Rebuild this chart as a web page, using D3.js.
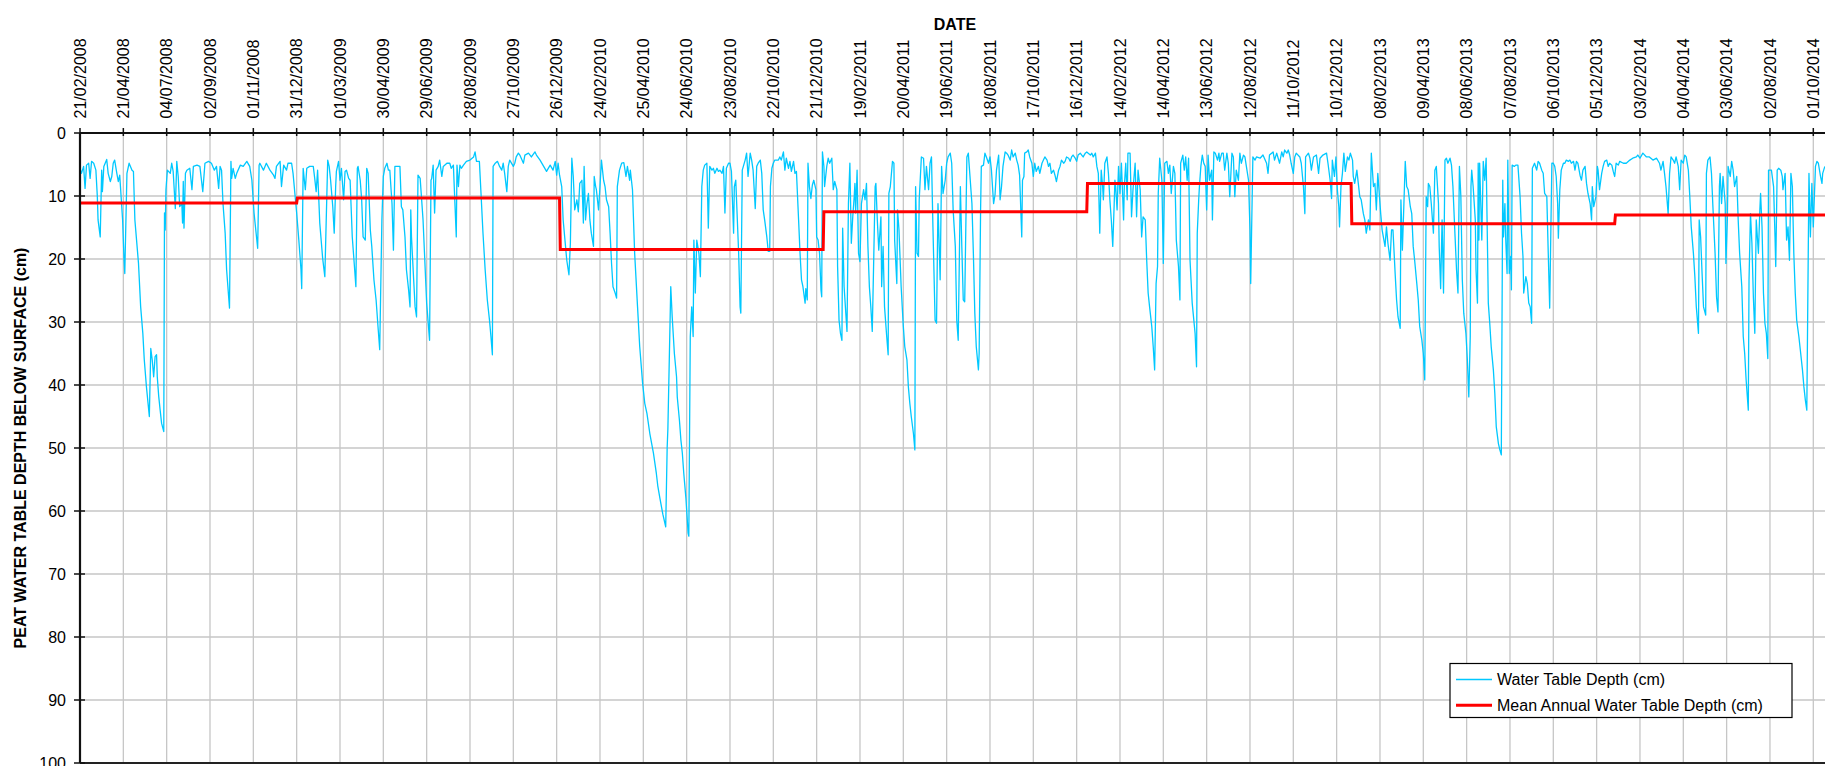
<!DOCTYPE html>
<html>
<head>
<meta charset="utf-8">
<script src="https://cdn.jsdelivr.net/npm/d3@7"></script>
<style>
  html, body { margin: 0; padding: 0; background: #fff; }
  svg { display: block; font-family: "Liberation Sans", Arial, sans-serif; }
</style>
</head>
<body>
<svg id="chart" width="1825" height="766"></svg>
<script>
// ---------------- DATA ----------------
// Category axis (one category per recorded day); a label every 60 categories
const tickLabels = [
  "21/02/2008","21/04/2008","04/07/2008","02/09/2008","01/11/2008","31/12/2008",
  "01/03/2009","30/04/2009","29/06/2009","28/08/2009","27/10/2009","26/12/2009",
  "24/02/2010","25/04/2010","24/06/2010","23/08/2010","22/10/2010","21/12/2010",
  "19/02/2011","20/04/2011","19/06/2011","18/08/2011","17/10/2011","16/12/2011",
  "14/02/2012","14/04/2012","13/06/2012","12/08/2012","11/10/2012","10/12/2012",
  "08/02/2013","09/04/2013","08/06/2013","07/08/2013","06/10/2013","05/12/2013",
  "03/02/2014","04/04/2014","03/06/2014","02/08/2014","01/10/2014"
];
const tickEvery = 60;
const yTicks = [0,10,20,30,40,50,60,70,80,90,100];

const dayIndex = [
0,2,5,7,9,12,14,16,19,22,24,25,28,30,31,33,37,39,42,44,46,48,51,53,55,59,61,62,65,68,72,74,76,81,84,87,89,92,96,98,100,102,104,106,107,109,111,113,116,117,118,119,121,125,127,129,132,134,136,138,141,142,143,144,146,148,152,155,157,162,166,170,173,178,182,186,189,192,194,196,198,201,203,207,209,210,212,215,217,222,226,231,235,238,241,246,248,249,254,258,263,268,270,272,277,279,282,286,288,293,295,300,303,306,307,309,312,314,318,323,325,327,329,332,336,339,343,345,347,350,352,354,355,358,360,362,365,367,369,372,374,377,380,382,384,385,388,390,392,395,396,397,399,402,404,407,410,413,415,418,420,422,425,427,429,432,434,436,438,443,445,447,450,452,455,457,458,459,462,464,466,468,471,475,480,484,
486,487,489,491,493,496,498,501,503,508,512,514,517,521,522,524,526,528,531,535,540,545,547,549,553,555,558,561,564,567,569,571,572,575,578,581,584,586,588,591,593,595,600,602,604,607,609,614,616,621,625,630,632,637,641,646,651,655,658,660,662,664,667,669,674,677,679,681,683,685,688,690,692,695,697,698,700,702,704,706,708,711,712,714,715,718,720,722,725,727,729,732,734,736,738,741,743,744,747,750,753,756,758,761,762,765,768,772,775,779,782,785,789,794,798,800,803,807,811,813,814,818,820,823,826,827,830,832,834,836,839,842,843,845,847,849,850,852,854,857,859,861,863,865,868,870,872,875,877,879,882,884,886,889,891,893,895,898,900,902,905,906,908,912,914,915,917,919,921,923,925,928,930,932,935,937,939,942,944,946,948,951,953,955,956,958,960,962,967,
969,971,974,976,978,981,983,985,988,990,992,995,997,999,1001,1004,1005,1007,1008,1010,1012,1014,1016,1019,1020,1022,1024,1026,1027,1028,1030,1031,1034,1036,1038,1041,1043,1045,1048,1049,1051,1053,1055,1056,1058,1061,1062,1064,1066,1068,1070,1072,1073,1074,1076,1078,1080,1082,1085,1087,1089,1091,1093,1095,1097,1099,1101,1102,1104,1106,1109,1110,1112,1114,1117,1119,1120,1122,1125,1127,1128,1131,1132,1134,1137,1140,1142,1145,1147,1149,1151,1154,1156,1157,1159,1161,1162,1165,1168,1170,1172,1175,1177,1179,1181,1184,1186,1188,1191,1193,1195,1198,1200,1202,1205,1207,1209,1212,1214,1216,1218,1219,1221,1223,1225,1228,1230,1232,1235,1237,1239,1241,1244,1245,1247,1248,1251,1253,1255,1258,1260,1262,1265,1267,1269,1272,1274,1276,1278,1281,1283,1285,1288,1290,1292,1295,1297,1299,1301,1304,1305,1307,1308,1311,1313,1315,1318,1320,1322,1324,1327,1329,1332,1334,1336,1339,1341,1343,1345,1348,1350,1352,1355,1357,1359,1362,1364,1366,1369,1371,1373,1375,1378,1380,1382,1385,1387,1389,1392,1394,1396,1399,1401,1403,1406,1408,1410,1412,1414,1416,1417,1419,1422,1424,1426,1428,1430,1432,1433,1434,1436,1438,1440,1442,1445,1446,1448,1450,1451,
1454,1456,1458,1461,1463,1465,1468,1470,1472,1475,1477,1479,1481,1484,1486,1488,1490,1492,1493,1495,1498,1500,1502,1505,1507,1509,1511,1514,1516,1518,1521,1523,1524,1527,1529,1531,1533,1535,1537,1540,1544,1546,1547,1549,1550,1552,1554,1556,1558,1560,1562,1564,1567,1568,1570,1572,1575,1577,1578,1581,1583,1585,1588,1590,1592,1595,1597,1599,1601,1604,1606,1608,1611,1613,1615,1618,1620,1621,1624,1627,1629,1634,1638,1643,1645,1647,1652,1654,1657,1661,1664,1666,1668,1671,1673,1675,1677,1680,1682,1684,1689,1691,1694,1696,1697,1701,1703,1705,1708,1712,1715,1717,1721,1726,1728,1731,1733,1734,1737,1739,1741,1743,1744,1746,1748,1750,1752,1755,1757,1759,1762,1763,1765,1768,1770,1772,1774,1777,1779,1781,1784,1786,1788,1791,1793,1795,1797,1801,1803,1807,1809,1811,1814,1816,1818,1821,1823,1825,1828,1829,1831,1833,1835,1837,1839,1842,1844,1846,1848,1851,1853,1855,1858,1860,1862,1864,1866,1867,1869,1871,1874,1876,1878,1881,1882,1884,1886,1888,1890,1892,1894,1897,1899,1901,1904,1906,1908,1910,1912,1914,1916,1919,1921,1923,1925,1926,1927,1929,1932,1933,1935,
1936,1937,1938,1941,1943,1945,1947,1949,1950,1952,1954,1957,1959,1961,1964,1966,1968,1970,1971,1973,1974,1976,1977,1979,1981,1982,1983,1986,1988,1991,1994,1996,1998,1999,2002,2004,2006,2008,2010,2011,2014,2017,2019,2021,2024,2026,2028,2031,2033,2035,2038,2040,2042,2044,2046,2047,2049,2051,2054,2056,2058,2061,2063,2065,2068,2070,2072,2074,2077,2079,2081,2084,2086,2088,2091,2093,2094,2096,2099,2101,2102,2104,2107,2109,2111,2114,2116,2118,2121,2123,2125,2127,2130,2132,2137,2141,2146,2150,2155,2157,2160,2164,2169,2173,2178,2183,2187,2189,2192,2194,2196,2199,2201,2203,2206,2208,2210,2213,2215,2217,2220,2222,2224,2227,2229,2231,2234,2236,2238,2241,2242,2244,2246,2248,2251,2252,2254,2257,2259,2261,2264,2266,2268,2270,2271,2273,2275,2278,2279,2281,2282,2285,2287,2289,2291,2294,2296,2298,2301,2303,2305,2307,2310,2311,2313,2315,2317,2319,2321,2324,2326,2327,2329,2331,2333,2335,2337,2338,2342,2345,2347,2348,2350,2352,2355,2357,2358,2361,2363,2365,2367,2368,2369,2371,2373,2375,2377,2380,2382,2385,2387,2389,2391,2393,2394,2396,2398,2400,2401,2403,2405,2407,2410,2412,2413,2416
];
const depth = [
5.6,6.4,5.3,8.8,5.1,4.8,7.2,4.5,4.8,5.9,10.1,13.8,16.5,5.9,9.3,5.3,4.2,6.4,7.7,6.9,4.8,4.3,6.4,7.7,6.7,13.8,20.2,22.3,6.4,4.8,5.9,6.1,13.8,20.7,27.6,31.8,36.0,40.3,45.0,34.2,36.0,38.7,35.5,35.2,38.7,41.8,44.0,46.1,47.4,12.7,15.4,9.0,5.9,6.4,4.8,6.1,12.0,4.5,6.9,11.7,11.2,14.3,7.7,15.1,6.4,5.9,5.6,9.0,5.3,5.1,5.3,9.3,4.8,4.5,4.8,5.9,5.3,8.8,5.3,5.9,11.2,15.9,21.7,27.8,4.5,7.2,5.6,7.2,6.4,5.1,5.3,4.5,5.3,7.5,12.7,18.3,5.1,4.8,5.9,4.8,5.9,6.7,7.2,5.3,4.5,8.5,5.1,5.9,4.8,4.8,6.4,12.7,17.0,21.7,24.7,5.6,9.0,5.6,5.3,5.3,7.2,9.3,5.9,14.3,19.9,22.8,4.3,5.3,7.5,11.7,15.9,8.5,6.1,4.5,7.5,5.6,10.6,6.1,5.9,7.2,7.5,16.5,21.2,24.4,5.6,5.3,7.5,10.6,16.5,17.0,11.2,5.6,6.4,15.4,18.0,23.3,26.5,31.3,34.4,13.8,6.9,5.6,4.8,5.9,5.9,11.2,18.6,5.3,5.3,5.3,11.7,12.2,16.5,21.7,24.9,27.6,12.2,16.5,23.3,27.6,29.2,6.7,7.2,13.8,27.0,32.9,
7.5,7.2,5.1,12.7,5.9,5.3,4.3,6.9,5.3,4.8,4.8,5.6,5.1,16.5,5.1,8.5,5.1,5.6,5.1,4.5,4.3,3.8,3.0,4.5,4.5,9.0,15.9,21.7,26.5,29.7,32.3,35.2,5.3,4.8,4.5,5.3,5.9,4.8,6.4,9.3,5.3,4.3,5.3,4.8,3.8,3.2,3.5,4.8,3.5,3.2,3.8,3.0,3.5,4.3,5.1,6.1,5.1,5.9,4.5,6.7,4.8,6.7,8.5,13.8,20.2,22.5,17.5,4.0,6.9,12.2,10.6,12.5,8.0,7.5,14.3,5.3,13.8,11.2,9.6,13.8,15.9,18.0,6.9,8.5,9.0,12.2,8.5,4.3,7.5,8.5,10.6,11.7,15.9,20.7,24.4,25.4,26.2,8.5,5.9,4.8,4.7,6.9,5.3,7.5,5.9,9.0,19.1,27.6,33.9,39.7,42.9,44.5,47.7,50.8,54.0,56.0,58.0,60.5,62.5,50.0,47.0,24.4,29.2,35.0,38.7,41.9,45.6,48.7,50.8,54.0,58.0,63.5,64.0,32.3,27.6,32.3,17.0,25.4,17.0,19.1,22.8,8.5,5.9,5.1,4.8,15.1,5.3,5.9,5.6,6.4,5.6,6.1,5.9,6.4,5.3,12.7,5.6,4.8,4.8,6.1,15.9,8.5,7.5,19.1,27.6,28.6,5.9,5.1,4.3,3.2,6.9,3.2,4.3,5.9,12.0,5.3,4.8,4.3,6.4,12.2,13.8,16.5,18.8,18.8,8.5,5.6,4.8,4.3,4.3,
3.8,4.3,3.0,5.9,4.0,5.6,4.5,6.1,4.5,6.4,6.1,13.8,19.1,23.3,24.4,27.0,24.7,26.5,4.8,8.5,10.4,8.3,7.5,9.0,16.5,17.0,19.1,24.9,26.0,3.0,5.3,8.5,5.3,4.0,4.8,4.0,9.0,7.7,9.0,21.2,29.7,31.8,32.9,15.1,24.4,29.7,31.5,11.2,4.8,17.5,13.3,10.1,8.0,12.7,5.9,19.1,20.4,11.2,9.0,10.6,8.0,18.0,24.4,27.6,31.5,20.2,8.5,8.0,13.8,18.6,13.3,24.4,18.0,27.6,32.3,35.2,9.6,8.5,4.5,4.8,17.0,23.9,12.2,15.4,24.4,30.7,33.9,36.0,40.3,42.9,45.0,47.7,50.3,8.5,19.1,19.6,10.6,3.8,4.0,9.0,5.3,9.0,4.8,3.8,14.9,29.7,30.2,11.2,23.3,5.3,9.6,7.5,4.8,3.8,3.2,4.8,12.2,18.0,29.7,32.9,16.5,8.5,18.0,26.5,26.8,3.8,3.2,6.4,11.2,19.1,28.6,33.9,37.6,35.0,12.2,5.3,5.1,3.2,3.8,4.8,3.8,5.9,11.2,9.8,5.9,3.5,10.6,8.5,5.3,3.0,3.2,3.5,4.3,2.7,3.8,3.2,4.3,5.1,6.7,16.5,7.5,6.9,3.2,3.0,2.7,3.8,4.8,6.9,4.8,6.1,5.3,6.4,4.8,4.3,3.8,4.3,5.3,4.8,6.4,5.9,6.7,7.7,5.9,5.3,4.3,4.8,4.5,3.8,4.0,4.5,3.8,3.5,4.0,4.5,3.5,3.2,3.5,3.8,3.2,3.0,3.2,3.5,3.2,3.8,3.2,5.3,6.4,15.9,5.9,8.5,10.6,4.8,3.8,6.4,10.6,13.8,18.0,11.2,7.5,8.5,12.2,5.3,9.6,4.8,13.8,8.5,4.8,10.6,3.2,
3.2,13.3,9.0,4.8,13.3,5.9,9.0,16.5,13.3,13.8,20.2,25.4,27.6,30.7,33.9,37.6,23.9,21.2,9.6,4.0,7.5,20.7,4.8,4.5,6.4,5.1,9.6,5.3,6.4,17.0,21.2,26.5,4.8,3.5,5.9,3.8,7.5,4.0,20.2,27.0,31.8,37.1,15.9,10.6,8.5,5.3,3.5,4.8,5.3,12.2,3.5,7.5,5.9,13.8,3.0,3.2,4.3,3.2,4.5,3.2,3.2,5.9,3.2,4.8,10.1,3.2,3.8,10.1,5.9,7.5,3.2,4.8,3.5,3.8,5.3,7.5,15.4,23.9,3.8,4.3,3.8,4.0,3.5,4.8,6.4,3.5,3.0,4.3,3.2,4.8,3.0,3.8,2.7,3.2,2.7,3.5,4.8,6.4,3.8,3.2,3.8,4.8,8.5,12.8,3.8,3.2,4.0,5.9,3.8,3.5,6.4,4.0,3.5,3.2,4.8,7.5,10.4,4.3,6.9,3.8,9.0,11.7,14.9,8.5,6.4,3.2,6.1,3.8,4.3,3.2,4.3,6.9,8.0,5.9,8.0,10.1,10.6,12.8,13.8,15.9,13.8,15.4,3.2,8.5,8.0,12.2,6.4,12.8,15.4,18.0,14.9,17.5,20.2,15.4,15.4,22.3,26.5,29.2,31.0,10.6,18.6,11.7,4.5,8.5,9.0,11.7,12.8,18.0,20.2,23.9,26.5,30.7,32.9,35.0,39.2,10.1,11.7,8.0,8.5,11.2,15.9,5.9,5.3,11.2,18.0,24.7,13.8,25.4,4.3,4.0,4.8,4.0,5.1,8.5,16.5,21.7,25.4,5.3,10.1,23.3,28.6,31.8,36.0,41.9,32.3,8.5,5.9,8.5,13.8,21.7,27.0,
4.8,17.0,4.8,17.0,4.5,7.5,4.0,19.1,27.0,30.2,33.9,37.6,41.3,46.6,49.3,50.3,51.1,7.5,16.5,11.2,16.5,22.3,4.3,22.3,19.6,24.9,5.1,5.3,5.1,5.1,10.1,15.9,19.6,25.4,22.8,23.9,27.0,27.6,30.2,5.6,4.8,5.9,4.5,4.8,5.9,6.4,9.6,10.1,19.1,27.8,4.8,4.8,5.3,6.9,11.2,16.7,9.0,5.9,4.8,4.8,4.3,4.5,4.3,4.8,4.5,5.9,4.5,4.8,6.7,7.5,5.9,5.3,8.0,9.6,11.2,13.8,8.5,11.7,10.1,5.3,5.9,9.0,6.4,5.3,4.5,4.3,5.3,4.8,5.1,6.1,6.9,4.8,5.1,4.5,4.8,4.8,4.3,4.0,3.8,3.5,4.0,3.2,3.8,3.8,4.3,4.0,4.8,5.9,4.5,6.4,8.5,12.8,6.4,3.8,4.3,4.8,3.8,5.3,9.0,4.3,4.8,3.5,3.8,5.9,10.1,14.9,19.1,22.8,27.6,31.8,13.8,16.5,22.3,27.6,28.9,6.4,4.3,3.8,6.4,11.7,19.1,26.0,28.4,8.5,6.4,11.2,6.9,11.2,20.7,13.8,5.3,6.9,4.5,5.9,8.5,6.9,13.8,19.1,24.4,32.3,35.0,39.2,44.0,23.3,12.8,17.5,26.0,31.8,13.8,19.1,12.2,9.6,14.9,25.4,30.2,31.8,35.8,5.9,5.9,8.5,16.5,21.2,5.9,5.6,5.9,6.9,9.0,6.4,17.0,14.9,20.2,13.8,6.4,8.5,19.1,25.4,29.7,32.3,34.4,37.6,40.3,42.4,44.0,19.1,6.4,16.5,8.0,14.9,11.7,5.3,4.5,4.8,6.9,8.0,6.4,5.3
];

// Mean annual water table depth (cm): one value per calendar year
const meanYearStart = [0, 301, 665, 1030, 1395, 1761, 2126];
const meanYearEnd   = [300, 664, 1029, 1394, 1760, 2125, 2420];
const meanDepth     = [11.1, 10.3, 18.5, 12.5, 8.0, 14.4, 13.0];

// ---------------- LAYOUT ----------------
const plotLeft = 80, plotTop = 133, plotBottom = 763;
const pxPerDay = (1813.3 - 80) / 2400;
const xMax = 2420;

const svg = d3.select("#chart");
const x = d3.scaleLinear().domain([0, xMax]).range([plotLeft, plotLeft + xMax * pxPerDay]);
const y = d3.scaleLinear().domain([0, 100]).range([plotTop, plotBottom]);
const xRight = x(xMax);

const tickIdx = tickLabels.map((d, i) => i * tickEvery);

// Gridlines
const grid = svg.append("g");
grid.selectAll("line.v").data(tickIdx.slice(1)).join("line")
  .attr("x1", d => x(d)).attr("x2", d => x(d))
  .attr("y1", plotTop).attr("y2", plotBottom)
  .attr("stroke", "#c6c6c6").attr("stroke-width", 1.3);
grid.selectAll("line.h").data(yTicks.slice(1, -1)).join("line")
  .attr("x1", plotLeft).attr("x2", xRight)
  .attr("y1", d => y(d)).attr("y2", d => y(d))
  .attr("stroke", "#c6c6c6").attr("stroke-width", 1.3);

// Bottom border of plot
svg.append("line").attr("x1", plotLeft).attr("x2", xRight)
  .attr("y1", y(100)).attr("y2", y(100))
  .attr("stroke", "#222").attr("stroke-width", 2);

// Series: water table depth
const wtLine = d3.line().x((d, i) => x(dayIndex[i])).y(d => y(d));
svg.append("path").datum(depth)
  .attr("d", wtLine)
  .attr("fill", "none")
  .attr("stroke", "#00c8ff")
  .attr("stroke-width", 1.3)
  .attr("stroke-linejoin", "round");

// Series: mean annual depth (step)
const meanPts = [];
meanDepth.forEach((v, i) => { meanPts.push([meanYearStart[i], v]); meanPts.push([meanYearEnd[i], v]); });
svg.append("path").datum(meanPts)
  .attr("d", d3.line().x(d => x(d[0])).y(d => y(d[1])))
  .attr("fill", "none")
  .attr("stroke", "#ff0000")
  .attr("stroke-width", 3);

// Top (date) axis
const axisG = svg.append("g");
axisG.append("line").attr("x1", plotLeft).attr("x2", xRight)
  .attr("y1", plotTop).attr("y2", plotTop)
  .attr("stroke", "#111").attr("stroke-width", 2.2);
axisG.selectAll("line.xt").data(tickIdx).join("line")
  .attr("x1", d => x(d)).attr("x2", d => x(d))
  .attr("y1", plotTop - 5).attr("y2", plotTop + 3)
  .attr("stroke", "#111").attr("stroke-width", 1.5);
axisG.selectAll("text.xl").data(tickLabels).join("text")
  .attr("transform", (d, i) => `translate(${x(tickIdx[i])},118.5) rotate(-90)`)
  .attr("dy", "0.35em")
  .attr("text-anchor", "start")
  .attr("font-size", 16)
  .attr("fill", "#000")
  .text(d => d);

// Left (depth) axis
axisG.append("line").attr("x1", plotLeft).attr("x2", plotLeft)
  .attr("y1", plotTop).attr("y2", plotBottom)
  .attr("stroke", "#111").attr("stroke-width", 2.2);
axisG.selectAll("line.yt").data(yTicks).join("line")
  .attr("x1", plotLeft - 6).attr("x2", plotLeft + 5)
  .attr("y1", d => y(d)).attr("y2", d => y(d))
  .attr("stroke", "#111").attr("stroke-width", 1.5);
axisG.selectAll("text.yl").data(yTicks).join("text")
  .attr("x", 66).attr("y", d => y(d)).attr("dy", "0.35em")
  .attr("text-anchor", "end").attr("font-size", 16).attr("fill", "#000")
  .text(d => d);

// Titles
svg.append("text").attr("x", 955).attr("y", 29.5)
  .attr("text-anchor", "middle").attr("font-size", 16).attr("font-weight", "bold")
  .text("DATE");
svg.append("text")
  .attr("transform", `translate(26,${(plotTop + plotBottom) / 2}) rotate(-90)`)
  .attr("text-anchor", "middle").attr("font-size", 16).attr("font-weight", "bold")
  .text("PEAT WATER TABLE DEPTH BELOW SURFACE (cm)");

// Legend
const lg = svg.append("g");
lg.append("rect").attr("x", 1450).attr("y", 663.5).attr("width", 342).attr("height", 54)
  .attr("fill", "#fff").attr("stroke", "#000").attr("stroke-width", 1.2);
const legendItems = [
  { label: "Water Table Depth (cm)", color: "#00c8ff", w: 1.3 },
  { label: "Mean Annual Water Table Depth (cm)", color: "#ff0000", w: 3 }
];
legendItems.forEach((it, i) => {
  const cy = 679.5 + i * 25.8;
  lg.append("line").attr("x1", 1456).attr("x2", 1492).attr("y1", cy).attr("y2", cy)
    .attr("stroke", it.color).attr("stroke-width", it.w);
  lg.append("text").attr("x", 1497).attr("y", cy).attr("dy", "0.35em")
    .attr("font-size", 16).attr("fill", "#000").text(it.label);
});
</script>
</body>
</html>
